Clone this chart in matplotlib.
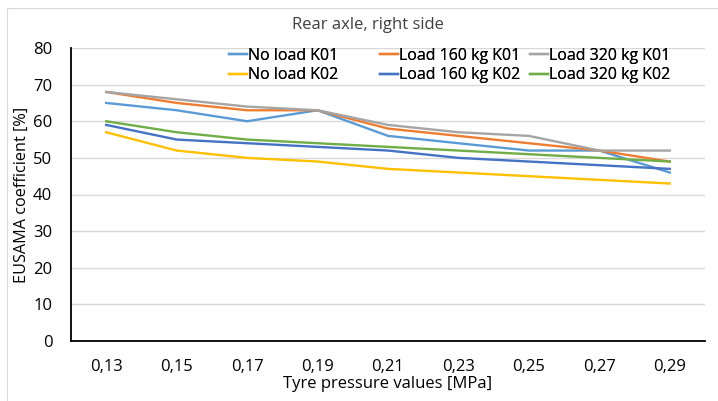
import matplotlib
matplotlib.use("Agg")
import matplotlib.pyplot as plt
from matplotlib.patches import Rectangle

plt.rcParams['font.family'] = ['Open Sans', 'DejaVu Sans']

categories = ["0,13", "0,15", "0,17", "0,19", "0,21", "0,23", "0,25", "0,27", "0,29"]
series_names = ["No load K01", "Load 160 kg K01", "Load 320 kg K01",
                "No load K02", "Load 160 kg K02", "Load 320 kg K02"]
no_load_k01 = [65, 63, 60, 63, 56, 54, 52, 52, 46]
load160_k01 = [68, 65, 63, 63, 58, 56, 54, 52, 49]
load320_k01 = [68, 66, 64, 63, 59, 57, 56, 52, 52]
no_load_k02 = [57, 52, 50, 49, 47, 46, 45, 44, 43]
load160_k02 = [59, 55, 54, 53, 52, 50, 49, 48, 47]
load320_k02 = [60, 57, 55, 54, 53, 52, 51, 50, 49]
yticks = [0, 10, 20, 30, 40, 50, 60, 70, 80]

series = [no_load_k01, load160_k01, load320_k01, no_load_k02, load160_k02, load320_k02]
colors = ["#5B9BD5", "#ED7D31", "#A5A5A5", "#FFC000", "#4472C4", "#70AD47"]

W, H = 718, 401
fig = plt.figure(figsize=(W / 100, H / 100), dpi=100)
fig.patches.append(Rectangle((7 / W, -5 / H), 1, 1 - 3 / H, transform=fig.transFigure,
                             fill=False, edgecolor="#D9D9D9", linewidth=0.8))
ax = fig.add_axes([71 / W, 1 - 341 / H, (705 - 71) / W, (341 - 48) / H])

x = list(range(len(categories)))
lines = []
for vals, name, c in zip(series, series_names, colors):
    ln, = ax.plot(x, vals, color=c, linewidth=1.7, label=name, solid_joinstyle="round")
    lines.append(ln)

ax.set_xlim(-0.5, len(categories) - 0.5)
ax.set_ylim(0, 80)
ax.set_yticks(yticks)
ax.set_xticks(x)
ax.set_xticklabels(categories)
ax.grid(axis="y", color="#D9D9D9", linewidth=1.0)
ax.set_axisbelow(True)
for s in ["top", "right"]:
    ax.spines[s].set_visible(False)
ax.spines["left"].set_color("black")
ax.spines["bottom"].set_color("black")
ax.spines["left"].set_linewidth(1.3)
ax.spines["bottom"].set_linewidth(1.3)
ax.tick_params(axis="both", length=0, labelsize=12, colors="#000000")
ax.tick_params(axis="y", pad=13.5)
ax.tick_params(axis="x", pad=13)

ax.set_ylabel("EUSAMA coefficient [%]", fontsize=11.7, labelpad=2)
ax.set_xlabel("Tyre pressure values [MPa]", fontsize=12, labelpad=1)
fig.text(368 / W, 1 - 25 / H, "Rear axle, right side", ha="center", va="center",
         fontsize=12, color="#404040")

col_x = [229, 380, 530]
for i in range(3):
    leg = fig.legend(handles=[lines[i], lines[i + 3]], loc="center left", ncol=1, frameon=False,
                     bbox_to_anchor=(col_x[i] / W, 1 - 65.5 / H),
                     prop={"size": 11.5},
                     handlelength=1.1, handletextpad=0.1,
                     labelspacing=0.25, borderpad=0, borderaxespad=0)
    fig.add_artist(leg)

fig.savefig("out.png", dpi=100)
